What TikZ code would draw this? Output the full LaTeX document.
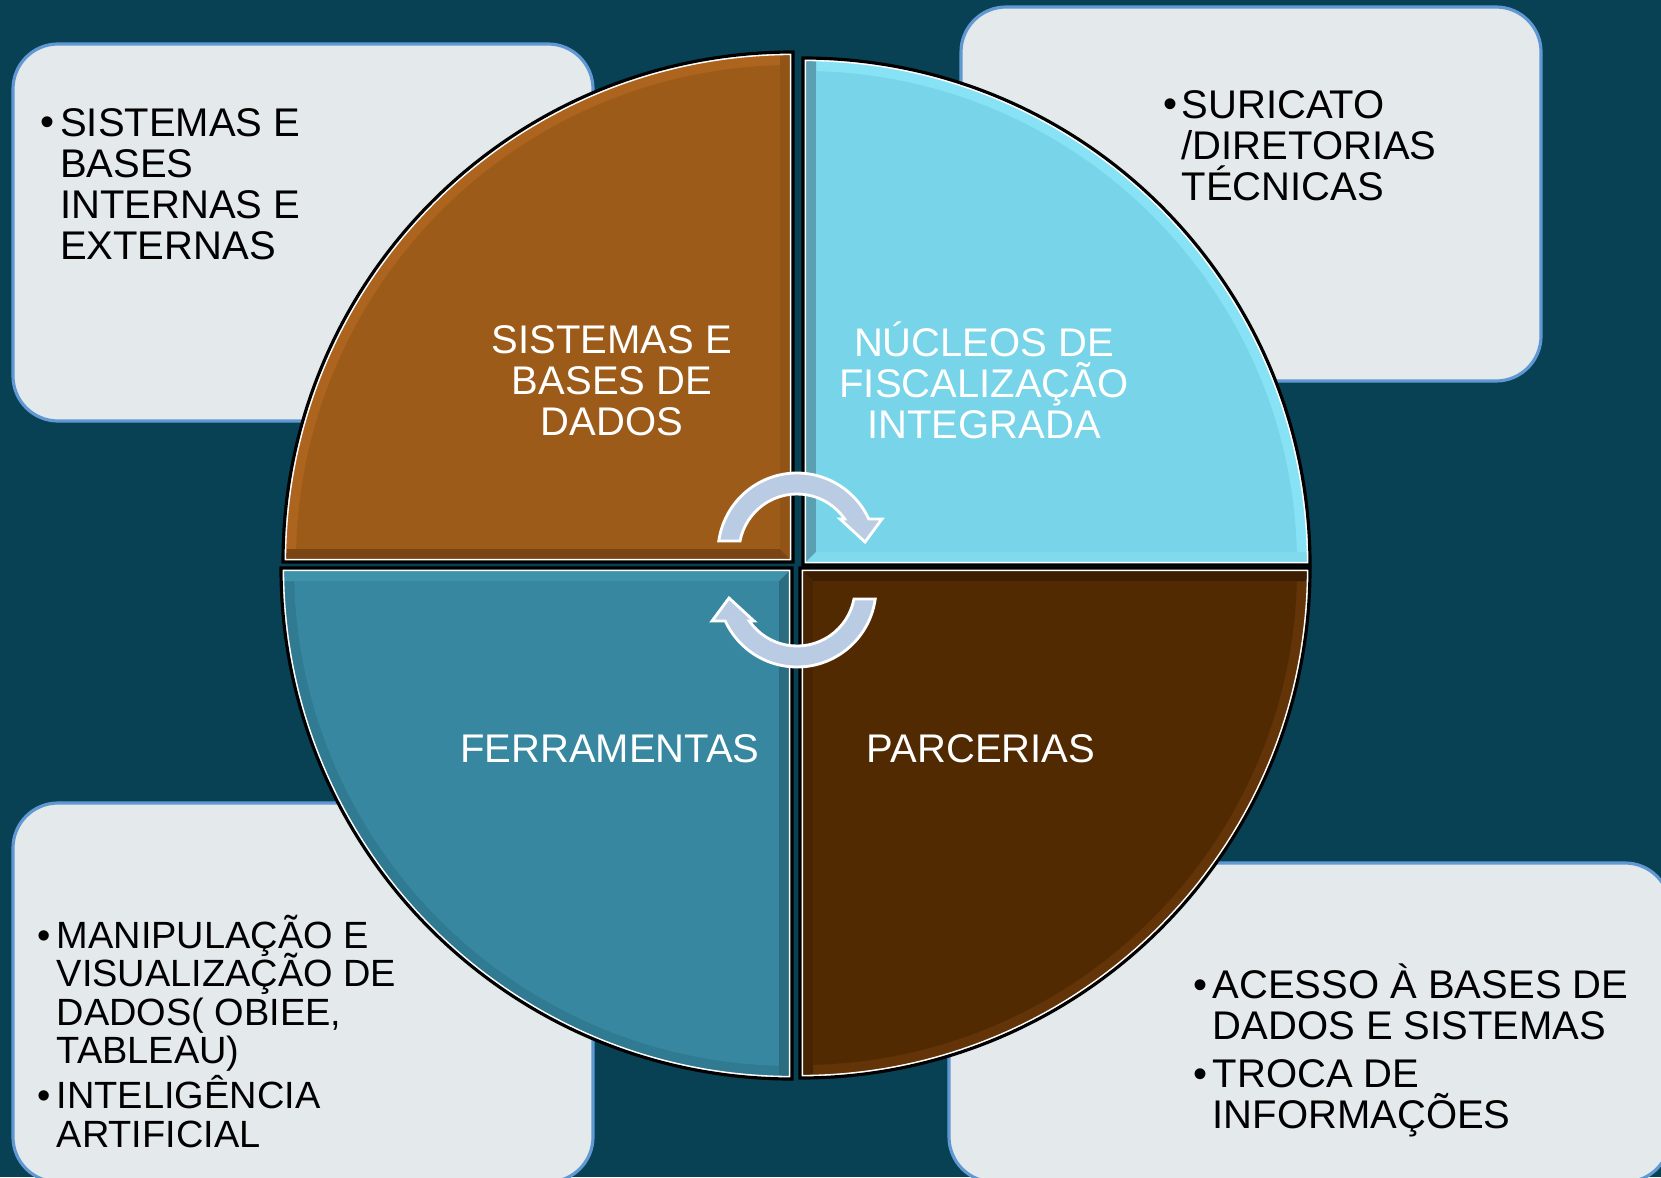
\documentclass[tikz,border=0pt]{standalone}
\usepackage{fontspec}
\setmainfont{Liberation Sans}
\definecolor{bg}{RGB}{9,65,84}
\definecolor{notefill}{RGB}{228,233,236}
\definecolor{noteline}{RGB}{96,152,212}
\definecolor{arrowfill}{RGB}{185,204,228}
% quadrant colours: main, arc bevel, first edge, second edge
\definecolor{tlmain}{RGB}{157,91,25}
\definecolor{tlband}{RGB}{172,100,30}
\definecolor{tlone}{RGB}{122,68,19}
\definecolor{tltwo}{RGB}{146,84,22}
\definecolor{trmain}{RGB}{120,212,233}
\definecolor{trband}{RGB}{134,226,244}
\definecolor{trone}{RGB}{90,160,178}
\definecolor{trtwo}{RGB}{128,218,238}
\definecolor{blmain}{RGB}{54,135,159}
\definecolor{blband}{RGB}{48,122,146}
\definecolor{blone}{RGB}{44,108,128}
\definecolor{bltwo}{RGB}{62,146,170}
\definecolor{brmain}{RGB}{82,42,2}
\definecolor{brband}{RGB}{98,52,8}
\definecolor{brone}{RGB}{62,30,2}
\definecolor{brtwo}{RGB}{72,36,2}

\begin{document}
\begin{tikzpicture}[
 note/.style={draw=noteline, fill=notefill, line width=0.9pt, rounded corners=0.45cm},
 notetext/.style={anchor=base west, inner sep=0pt, align=left, text=black,
   font={\fontsize{11.38}{11.67}\selectfont\lineskiplimit-20pt}},
 smalltext/.style={notetext, font={\fontsize{10.8}{10.9}\selectfont\lineskiplimit-20pt}},
 label/.style={anchor=base, inner sep=0pt, align=center, text=white,
   font={\fontsize{11.38}{11.67}\selectfont\lineskiplimit-20pt}},
 rim/.style={draw=black, line width=0.9pt},
 cyc/.style={fill=arrowfill, draw=white, line width=0.8pt, line join=miter}]
\useasboundingbox (0,0) rectangle (16.61,11.77);
\clip (0,0) rectangle (16.61,11.77);
\fill[bg] (0,0) rectangle (16.61,11.77);
% boxes
\draw[note] (0.13,7.56) rectangle (5.93,11.33);
\draw[note] (9.61,7.96) rectangle (15.41,11.70);
\draw[note] (0.13,-0.05) rectangle (5.93,3.74);
\draw[note] (9.49,-0.05) rectangle (16.70,3.14);
% box texts (text nodes sit on their last line)
\node[notetext] (tlbul) at (0.40,10.41) {•};
\node[notetext] (tltxt) at (0.595,9.175) {SISTEMAS E\\BASES\\INTERNAS E\\EXTERNAS};
\node[notetext] (trbul) at (11.63,10.59) {•};
\node[notetext] (trtxt) at (11.81,9.768) {SURICATO\\/DIRETORIAS\\TÉCNICAS};
\node[smalltext] (blbulone) at (0.37,2.284) {•};
\node[smalltext] (bltxtone) at (0.56,1.134) {MANIPULAÇÃO E\\VISUALIZAÇÃO DE\\DADOS( OBIEE,\\TABLEAU)};
\node[smalltext] (blbultwo) at (0.37,0.684) {•};
\node[smalltext] (bltxttwo) at (0.56,0.300) {INTELIGÊNCIA\\ARTIFICIAL};
\node[notetext] (brbulone) at (11.93,1.787) {•};
\node[notetext] (brtxtone) at (12.12,1.377) {ACESSO À BASES DE\\DADOS E SISTEMAS};
\node[notetext] (brbultwo) at (11.93,0.897) {•};
\node[notetext] (brtxttwo) at (12.12,0.487) {TROCA DE\\INFORMAÇÕES};
% quadrant top left
\begin{scope}[shift={(7.93,6.15)}]
 \begin{scope}
  \clip (0,0) -- (90:5.10) arc[start angle=90,end angle=180,radius=5.10] -- cycle;
  \fill[tlband] (-5.3,0) rectangle (0,5.3);
  \fill[tlone] (0,0) -- (-5.3,0) -- (-5.3,.13) -- (-.13,.13) -- cycle;
  \fill[tltwo] (0,0) -- (0,5.3) -- (-.13,5.3) -- (-.13,.13) -- cycle;
  \draw[white, line width=1.8pt] (0,0) -- (90:5.10) arc[start angle=90,end angle=180,radius=5.10] -- cycle;
  \clip (0,0) circle (4.97);
  \fill[tlmain] (-.13,.13) rectangle (-5.3,5.3);
 \end{scope}
 \draw[rim] (0,0) -- (90:5.10) arc[start angle=90,end angle=180,radius=5.10] -- cycle;
\end{scope}
% quadrant top right
\begin{scope}[shift={(8.03,6.12)},rotate=-90]
 \begin{scope}
  \clip (0,0) -- (90:5.07) arc[start angle=90,end angle=180,radius=5.07] -- cycle;
  \fill[trband] (-5.3,0) rectangle (0,5.3);
  \fill[trone] (0,0) -- (-5.3,0) -- (-5.3,.13) -- (-.13,.13) -- cycle;
  \fill[trtwo] (0,0) -- (0,5.3) -- (-.13,5.3) -- (-.13,.13) -- cycle;
  \draw[white, line width=1.8pt] (0,0) -- (90:5.07) arc[start angle=90,end angle=180,radius=5.07] -- cycle;
  \clip (0,0) circle (4.94);
  \fill[trmain] (-.13,.13) rectangle (-5.3,5.3);
 \end{scope}
 \draw[rim] (0,0) -- (90:5.07) arc[start angle=90,end angle=180,radius=5.07] -- cycle;
\end{scope}
% quadrant bottom left
\begin{scope}[shift={(7.92,6.09)},rotate=90]
 \begin{scope}
  \clip (0,0) -- (90:5.11) arc[start angle=90,end angle=180,radius=5.11] -- cycle;
  \fill[blband] (-5.3,0) rectangle (0,5.3);
  \fill[blone] (0,0) -- (-5.3,0) -- (-5.3,.13) -- (-.13,.13) -- cycle;
  \fill[bltwo] (0,0) -- (0,5.3) -- (-.13,5.3) -- (-.13,.13) -- cycle;
  \draw[white, line width=1.8pt] (0,0) -- (90:5.11) arc[start angle=90,end angle=180,radius=5.11] -- cycle;
  \clip (0,0) circle (4.98);
  \fill[blmain] (-.13,.13) rectangle (-5.3,5.3);
 \end{scope}
 \draw[rim] (0,0) -- (90:5.11) arc[start angle=90,end angle=180,radius=5.11] -- cycle;
\end{scope}
% quadrant bottom right
\begin{scope}[shift={(8.00,6.09)},rotate=180]
 \begin{scope}
  \clip (0,0) -- (90:5.10) arc[start angle=90,end angle=180,radius=5.10] -- cycle;
  \fill[brband] (-5.3,0) rectangle (0,5.3);
  \fill[brone] (0,0) -- (-5.3,0) -- (-5.3,.13) -- (-.13,.13) -- cycle;
  \fill[brtwo] (0,0) -- (0,5.3) -- (-.13,5.3) -- (-.13,.13) -- cycle;
  \draw[white, line width=1.8pt] (0,0) -- (90:5.10) arc[start angle=90,end angle=180,radius=5.10] -- cycle;
  \clip (0,0) circle (4.97);
  \fill[brmain] (-.13,.13) rectangle (-5.3,5.3);
 \end{scope}
 \draw[rim] (0,0) -- (90:5.10) arc[start angle=90,end angle=180,radius=5.10] -- cycle;
\end{scope}
% labels
\node[label] (sistemas) at (6.12,7.414) {SISTEMAS E\\BASES DE\\DADOS};
\node[label] (nucleos) at (9.84,7.382) {NÚCLEOS DE\\FISCALIZAÇÃO\\INTEGRADA};
\node[label] (ferramentas) at (6.10,4.147) {FERRAMENTAS};
\node[label] (parcerias) at (9.81,4.147) {PARCERIAS};
% cycle arrows
\begin{scope}[shift={(7.97,6.25)}]
 \draw[cyc] (172:0.79) arc[start angle=172,end angle=24.7,radius=0.79] -- (0.85,0.33) -- (0.68,0.10) -- (0.43,0.33) -- (34.7:0.58) arc[start angle=34.7,end angle=169,radius=0.58] -- cycle;
\end{scope}
\begin{scope}[shift={(7.97,5.89)},rotate=180]
 \draw[cyc] (172:0.79) arc[start angle=172,end angle=24.7,radius=0.79] -- (0.85,0.33) -- (0.68,0.10) -- (0.43,0.33) -- (34.7:0.58) arc[start angle=34.7,end angle=169,radius=0.58] -- cycle;
\end{scope}
\end{tikzpicture}
\end{document}
